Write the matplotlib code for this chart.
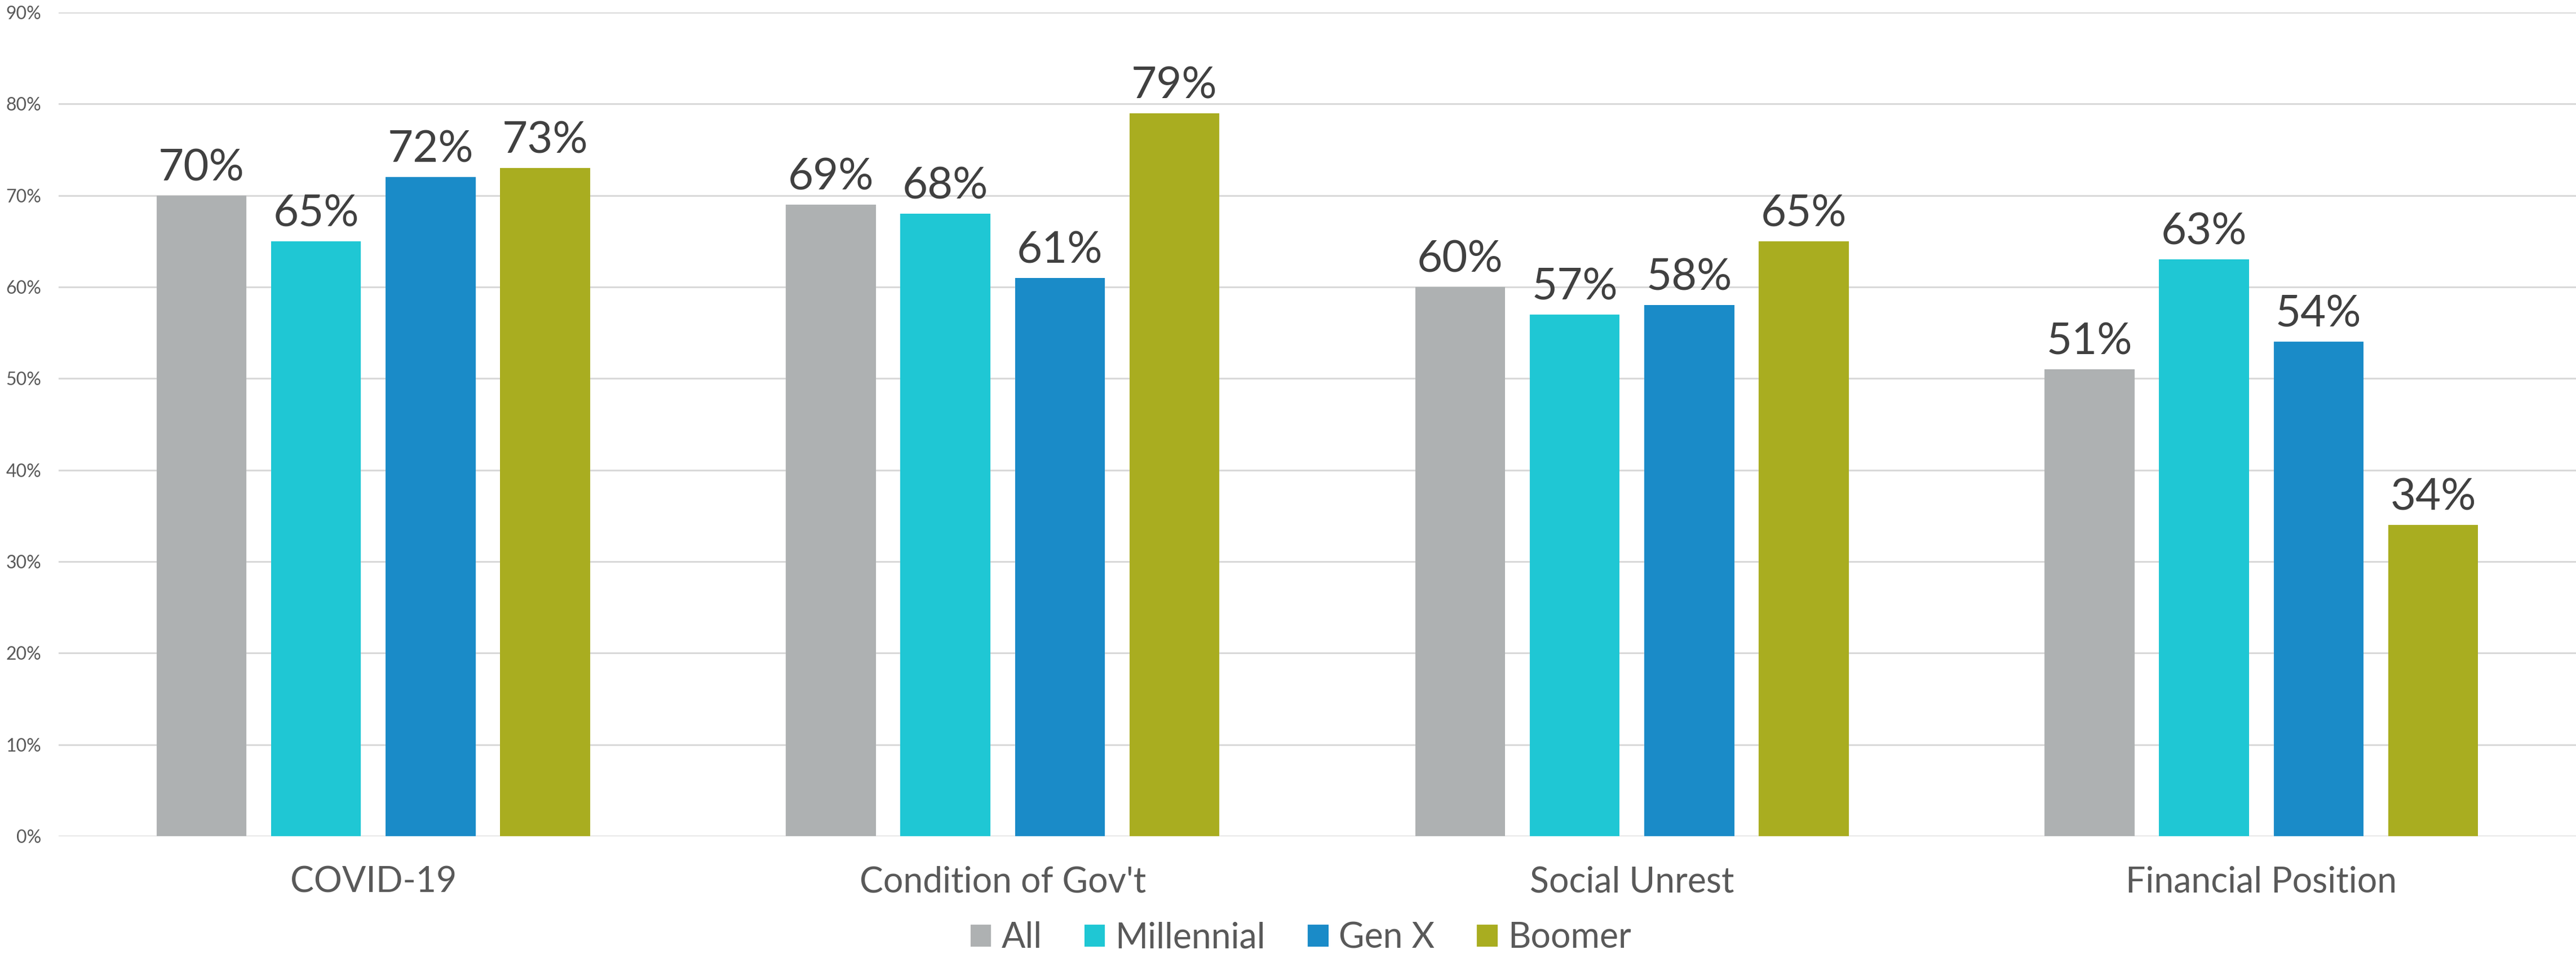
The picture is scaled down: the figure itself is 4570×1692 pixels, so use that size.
import matplotlib.pyplot as plt
import numpy as np

plt.rcParams['font.family'] = ['Lato', 'DejaVu Sans']

# data
categories = ["COVID-19", "Condition of Gov't", "Social Unrest", "Financial Position"]
series = ["All", "Millennial", "Gen X", "Boomer"]
all_vals = [0.70, 0.69, 0.60, 0.51]
millennial_vals = [0.65, 0.68, 0.57, 0.63]
genx_vals = [0.72, 0.61, 0.58, 0.54]
boomer_vals = [0.73, 0.79, 0.65, 0.34]
colors = ["#AEB1B2", "#1FC7D4", "#1A8BC8", "#A9AD20"]

values = [all_vals, millennial_vals, genx_vals, boomer_vals]

fig = plt.figure(figsize=(45.7, 16.92), dpi=100)
ax = fig.add_axes([104 / 4570, 209 / 1692, (4570 - 104) / 4570, 1461 / 1692])

x = np.arange(len(categories))
width = 0.143
step = 0.182

for i, (name, vals, c) in enumerate(zip(series, values, colors)):
    bars = ax.bar(x + (i - 1.5) * step, vals, width, color=c, label=name, zorder=2)
    ax.bar_label(bars, labels=[f"{v * 100:.0f}%" for v in vals], padding=9,
                 fontsize=56, color="#404040")

ax.set_xlim(-0.5, len(categories) - 0.5)
ax.set_ylim(0, 0.9)
ax.set_yticks(np.arange(0, 0.91, 0.1))
ax.set_yticklabels([f"{int(round(t * 100))}%" for t in np.arange(0, 0.91, 0.1)])
ax.set_xticks(x)
ax.set_xticklabels(categories)
ax.tick_params(axis="y", length=0, pad=22, labelsize=23, labelcolor="#595959")
ax.tick_params(axis="x", length=0, pad=38, labelsize=45, labelcolor="#595959")
ax.grid(axis="y", color="#D9D9D9", linewidth=2.2, zorder=0)
ax.set_axisbelow(True)
for s in ax.spines.values():
    s.set_visible(False)

fig.legend(loc="center", bbox_to_anchor=(0.505, 0.017), ncol=4, frameon=False,
           fontsize=45, labelcolor="#595959", handlelength=0.58, handleheight=0.58,
           handletextpad=0.3, columnspacing=1.2)

fig.savefig("out.png", dpi=100)
